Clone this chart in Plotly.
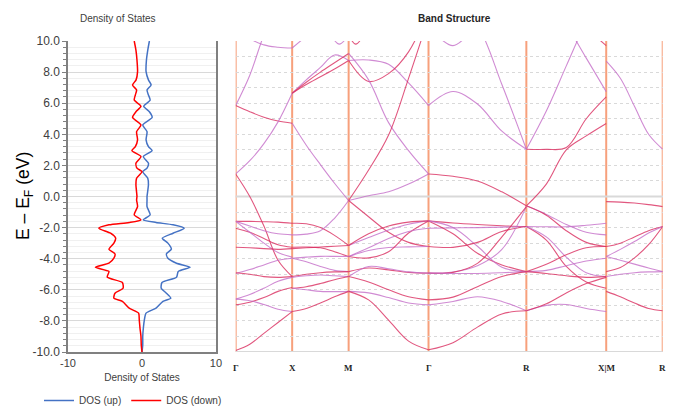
import plotly.graph_objects as go

# ---------------- DOS data ----------------
E_DOS = [10.0, 9.42, 8.78, 8.03, 7.5, 7.17, 6.85, 6.53, 6.2, 5.8, 5.45, 5.09, 4.6, 4.17, 3.64,
         3.21, 2.95, 2.57, 2.14, 1.82, 1.6, 1.17, 0.75, 0.0, -0.22, -0.65, -1.18, -1.5, -1.67,
         -1.82, -2.04, -2.36, -2.68, -3.0, -3.39, -3.69, -3.97, -4.29, -4.55, -4.82, -5.19,
         -5.53, -5.9, -6.22, -6.54, -6.75, -7.18, -7.5, -7.93, -8.47, -9.0, -9.54, -10.0]
DOS_UP = [1.0, 0.78, 0.6, 0.55, 0.87, 1.23, 0.68, 0.87, 1.1, 0.23, 1.0, 1.37, 0.1, 0.68, 0.55,
          0.87, 1.37, 0.18, 0.87, 0.68, 0.1, 0.78, 0.87, 0.68, 0.68, 0.68, 1.1, 0.18, 1.9,
          4.2, 5.7, 4.2, 2.74, 3.5, 3.97, 3.3, 3.5, 4.66, 6.5, 4.9, 4.66,
          2.7, 2.6, 3.3, 3.9, 2.83, 1.9, 0.55, 0.32, 0.18, 0.1, 0.1, 0.0]
DOS_DOWN = [-1.05, -0.82, -0.68, -0.6, -0.8, -1.28, -0.73, -0.9, -1.05, -0.14, -0.82, -1.28, -0.14, -0.73, -0.6,
            -0.9, -1.37, -0.14, -0.82, -0.68, 0.0, -0.73, -0.82, -0.68, -0.73, -0.6, -1.05, -0.14, -1.73,
            -4.47, -5.84, -4.25, -3.56, -3.8, -4.47, -3.65, -3.8, -4.47, -6.3, -4.47, -4.7,
            -2.65, -2.56, -3.65, -3.8, -2.65, -1.73, -0.46, -0.37, -0.27, -0.14, -0.1, 0.0]

Y_TICKS = [10, 8, 6, 4, 2, 0, -2, -4, -6, -8, -10]
Y_TICK_LABELS = ["10.0", "8.0", "6.0", "4.0", "2.0", "0.0", "-2.0", "-4.0", "-6.0", "-8.0", "-10.0"]
DOS_X_TICKS = [-10, 0, 10]
DOS_X_LABELS = ["-10", "0", "10"]

# ---------------- Band structure data ----------------
K_LABELS = ["Γ", "X", "M", "Γ", "R", "X|M", "R"]
K_NODES = [0.0, 0.5, 1.0, 1.707, 2.573, 3.280, 3.780]
SEGMENTS = [(0, 1), (1, 2), (2, 3), (3, 4), (4, 5), (5, 6)]
SEG_FRAC = [0.0, 0.25, 0.5, 0.75, 1.0]

BANDS_GX = [
    [5.85, 7.8, 10.4, 12.5, 14.0],
    [5.85, 5.45, 5.1, 4.85, 4.71],
    [1.45, 2.3, 3.4, 4.8, 6.64],
    [1.45, 0.0, -1.9, -4.1, -5.15],
    [12.0, 10.2, 9.75, 9.6, 9.55],
    [-1.6, -1.6, -1.62, -1.65, -1.72],
    [-1.6, -1.9, -2.2, -2.4, -2.47],
    [-2.04, -2.3, -2.7, -3.1, -3.26],
    [-1.6, -2.3, -3.0, -3.6, -3.9],
    [-3.26, -3.3, -3.35, -3.4, -3.35],
    [-4.95, -4.7, -4.4, -4.1, -3.97],
    [-4.9, -5.0, -5.15, -5.2, -5.15],
    [-6.6, -6.3, -5.9, -5.45, -5.2],
    [-6.97, -6.8, -6.5, -6.1, -5.85],
    [-6.6, -6.7, -6.95, -7.25, -7.4],
    [-9.9, -9.5, -8.8, -8.1, -7.4],
]
BANDS_XM = [
    [4.71, 3.3, 2.05, 0.85, -0.26],
    [6.64, 7.2, 7.7, 8.2, 8.75],
    [6.64, 7.5, 8.3, 9.1, 8.75],
    [6.64, 7.35, 8.0, 8.6, 9.2],
    [9.55, 10.3, 11.0, 11.5, 12.0],
    [-1.72, -1.75, -2.0, -2.5, -3.15],
    [-2.47, -2.42, -2.2, -1.4, -0.26],
    [-3.26, -3.25, -3.3, -3.55, -3.86],
    [-3.97, -4.2, -4.5, -4.75, -4.83],
    [-3.35, -3.3, -3.25, -3.2, -3.15],
    [-3.97, -3.9, -3.85, -3.85, -3.86],
    [-5.15, -5.0, -4.9, -4.85, -4.83],
    [-5.2, -5.1, -5.05, -5.1, -5.15],
    [-5.9, -5.8, -5.6, -5.35, -5.15],
    [-5.9, -6.0, -6.1, -6.12, -6.1],
    [-7.4, -7.2, -6.85, -6.45, -6.1],
]
BANDS_MG = [
    [8.75, 8.78, 8.5, 7.3, 5.85],
    [8.75, 7.4, 7.9, 9.3, 12.0],
    [9.2, 7.5, 4.75, 2.95, 1.45],
    [-0.26, 1.7, 3.95, 7.6, 11.5],
    [-0.26, 0.05, 0.3, 0.8, 1.45],
    [-0.26, -1.3, -2.3, -2.95, -3.22],
    [-3.15, -2.64, -2.15, -1.78, -1.57],
    [-3.15, -2.4, -1.9, -1.65, -1.57],
    [-3.86, -3.47, -3.28, -3.24, -3.22],
    [-3.86, -3.95, -3.55, -2.35, -1.57],
    [-3.86, -3.3, -2.7, -2.25, -2.04],
    [-4.83, -4.6, -4.72, -4.88, -4.93],
    [-5.15, -4.5, -4.65, -4.85, -4.93],
    [-5.15, -5.5, -6.0, -6.45, -6.65],
    [-6.1, -6.2, -6.5, -6.85, -6.97],
    [-6.1, -6.65, -7.95, -9.3, -9.86],
]
BANDS_GR = [
    [5.85, 6.75, 5.95, 4.2, 3.04],
    [1.45, 1.3, 1.0, 0.3, -0.6],
    [14.0, 12.5, 11.0, 7.2, 3.04],
    [-1.57, -1.7, -1.8, -1.88, -1.93],
    [-2.04, -2.02, -2.0, -1.97, -1.93],
    [-1.57, -2.4, -3.65, -4.4, -4.83],
    [-1.57, -2.0, -3.2, -4.55, -4.83],
    [-3.22, -3.27, -2.95, -2.25, -1.93],
    [-4.93, -4.85, -4.45, -3.4, -0.65],
    [-4.93, -4.88, -4.3, -2.6, -0.65],
    [-4.93, -4.95, -4.95, -4.9, -4.83],
    [-6.65, -6.47, -5.8, -5.15, -4.83],
    [-6.97, -6.75, -6.45, -6.75, -7.35],
    [-9.86, -9.4, -8.4, -7.55, -7.35],
]
BANDS_RX = [
    [3.04, 5.5, 8.4, 11.3, 14.0],
    [3.04, 3.03, 3.15, 5.0, 6.4],
    [14.0, 12.5, 11.0, 8.9, 6.74],
    [-0.6, 0.8, 3.0, 3.9, 4.7],
    [-0.6, -1.15, -1.8, -2.3, -2.47],
    [-0.6, -1.2, -2.2, -2.95, -3.22],
    [-1.93, -1.95, -1.95, -1.85, -1.72],
    [-1.93, -2.8, -4.5, -5.5, -5.9],
    [-1.93, -2.6, -3.9, -4.9, -5.15],
    [-4.83, -4.35, -3.75, -3.3, -3.22],
    [-4.83, -4.75, -4.45, -4.15, -3.97],
    [-4.83, -4.95, -5.1, -5.2, -5.15],
    [-7.35, -7.0, -6.95, -7.2, -7.4],
    [-7.35, -6.9, -6.2, -5.6, -5.2],
]
BANDS_MR = [
    [8.7, 7.6, 5.8, 4.0, 3.04],
    [-0.33, -0.36, -0.42, -0.52, -0.65],
    [-3.86, -4.1, -4.35, -4.6, -4.83],
    [-3.22, -3.0, -2.6, -2.2, -1.93],
    [-3.86, -3.4, -2.9, -2.35, -1.93],
    [-4.83, -4.57, -3.95, -3.1, -1.93],
    [-5.15, -5.0, -4.9, -4.85, -4.83],
    [-6.1, -6.45, -6.85, -7.2, -7.35],
]
SEGMENT_BANDS = [BANDS_GX, BANDS_XM, BANDS_MG, BANDS_GR, BANDS_RX, BANDS_MR]

# short band pieces dipping in from above the window: (segment, k-fractions, energies)
EXTRA_SEG = [1, 2, 3, 4]
EXTRA_FRAC = [[0.6, 0.83, 1.0], [0.0, 0.09, 0.25], [0.08, 0.25, 0.4], [0.8, 1.0]]
EXTRA_E = [[11.0, 9.8, 10.4], [10.4, 9.8, 11.0], [10.4, 9.7, 10.4], [10.6, 9.7]]

BAND_COLORS = ["rgba(196,110,200,0.8)", "rgba(218,45,95,0.8)"]

fig = go.Figure()

# DOS curves
fig.add_trace(go.Scatter(x=DOS_UP, y=E_DOS, mode="lines", name="DOS (up)",
                         line=dict(color="#4472C4", width=1.5, shape="spline", smoothing=0.6),
                         xaxis="x", yaxis="y"))
fig.add_trace(go.Scatter(x=DOS_DOWN, y=E_DOS, mode="lines", name="DOS (down)",
                         line=dict(color="#FF0000", width=1.5, shape="spline", smoothing=0.6),
                         xaxis="x", yaxis="y"))

# Band curves
count = 0
for (i0, i1), bands in zip(SEGMENTS, SEGMENT_BANDS):
    k0, k1 = K_NODES[i0], K_NODES[i1]
    for energies in bands:
        ks = [k0 + f * (k1 - k0) for f in SEG_FRAC]
        fig.add_trace(go.Scatter(x=ks, y=energies, mode="lines", showlegend=False,
                                 line=dict(color=BAND_COLORS[count % 2], width=1.1, shape="spline"),
                                 xaxis="x2", yaxis="y2", hoverinfo="skip"))
        count += 1
for seg, fracs, energies in zip(EXTRA_SEG, EXTRA_FRAC, EXTRA_E):
    i0, i1 = SEGMENTS[seg]
    k0, k1 = K_NODES[i0], K_NODES[i1]
    ks = [k0 + f * (k1 - k0) for f in fracs]
    fig.add_trace(go.Scatter(x=ks, y=energies, mode="lines", showlegend=False,
                             line=dict(color=BAND_COLORS[count % 2], width=1.1, shape="spline"),
                             xaxis="x2", yaxis="y2", hoverinfo="skip"))
    count += 1

Y_DOMAIN = [0.14, 0.9175]
AXIS_GREY = "#808080"
GRID = "#D9D9D9"
TEXT = "#404040"

shapes = []
for k in K_NODES:
    shapes.append(dict(type="line", xref="x2", yref="y2 domain", x0=k, x1=k, y0=0, y1=1,
                       line=dict(color="#F7A07C", width=2), layer="below"))
for yv in [0, -10]:
    shapes.append(dict(type="line", xref="x2 domain", yref="y2", x0=0, x1=1, y0=yv, y1=yv,
                       line=dict(color=GRID, width=2), layer="below"))

annotations = [
    dict(text="Density of States", xref="paper", yref="paper", x=0.1672, y=0.975,
         xanchor="center", yanchor="middle",
         showarrow=False, font=dict(size=10, color=TEXT)),
    dict(text="<b>Band Structure</b>", xref="paper", yref="paper", x=0.6793, y=0.975,
         xanchor="center", yanchor="middle",
         showarrow=False, font=dict(size=10, color="#262626")),
    dict(text="E – E<sub>F</sub> (eV)", xref="paper", yref="paper", x=0.0243, y=0.53,
         xanchor="center", yanchor="middle", textangle=-90, showarrow=False,
         font=dict(family="Liberation Sans, Arial, sans-serif", size=17.5, color="#000000")),
]
for lab, k in zip(K_LABELS, K_NODES):
    annotations.append(dict(text="<b>" + lab + "</b>", xref="x2", yref="paper", x=k, y=0.10,
                            xanchor="center", yanchor="middle", showarrow=False,
                            font=dict(family="Liberation Serif", size=9, color="#262626")))

fig.update_layout(
    width=658, height=400, autosize=False,
    margin=dict(l=0, r=0, t=0, b=0, pad=0, autoexpand=False),
    paper_bgcolor="white", plot_bgcolor="white",
    font=dict(family="Liberation Sans, Arial, sans-serif", color=TEXT),
    showlegend=True,
    legend=dict(orientation="h", x=0.0471, y=0.055, yanchor="top", xanchor="left",
                font=dict(size=10, color=TEXT), bgcolor="rgba(0,0,0,0)"),
    xaxis=dict(domain=[0.0912, 0.3161], range=[-10, 10], anchor="y", automargin=False,
               tickvals=DOS_X_TICKS, ticktext=DOS_X_LABELS, showgrid=False, zeroline=False,
               showline=True, linecolor=AXIS_GREY, linewidth=1.5, ticks="",
               tickfont=dict(size=11, color=TEXT),
               title=dict(text="Density of States", font=dict(size=10, color=TEXT), standoff=6)),
    yaxis=dict(domain=Y_DOMAIN, range=[-10, 10], anchor="x", automargin=False,
               tickvals=Y_TICKS, ticktext=Y_TICK_LABELS,
               showgrid=True, gridcolor=GRID, gridwidth=1, zeroline=False,
               showline=True, mirror=True, linecolor=AXIS_GREY, linewidth=1.5,
               ticks="outside", ticklen=4, tickcolor=AXIS_GREY,
               tickfont=dict(size=12, color=TEXT),
               minor=dict(dtick=0.4, showgrid=True, gridcolor="#F0F0F0",
                          ticks="outside", ticklen=3, tickcolor=AXIS_GREY)),
    xaxis2=dict(domain=[0.3460, 0.9950], range=[0, 3.78], anchor="y2", automargin=False,
                showticklabels=False, showgrid=False, zeroline=False, showline=False, ticks=""),
    yaxis2=dict(domain=Y_DOMAIN, range=[-10, 10], anchor="x2", dtick=1, automargin=False,
                showticklabels=False, showgrid=True, gridcolor=GRID, griddash="dot",
                zeroline=False, showline=False, ticks=""),
    shapes=shapes,
    annotations=annotations,
)

fig.write_html("out.html")
